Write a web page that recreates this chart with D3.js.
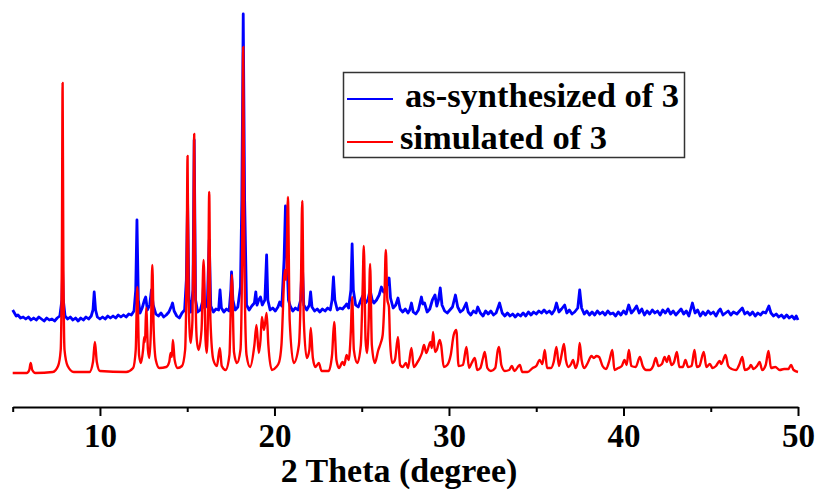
<!DOCTYPE html>
<html>
<head>
<meta charset="utf-8">
<script src="https://cdn.jsdelivr.net/npm/d3@7"></script>
<style>
  body { margin: 0; background: #fff; }
  #chart text { font-family: "Liberation Serif", "Times New Roman", serif; font-weight: bold; }
</style>
</head>
<body>
<div id="chart"></div>
<script>
// 2-theta (degree) vs intensity (a.u.)
var asSynthesized = [[5.0,97],[5.1,94],[5.2,91],[5.3,92],[5.45,89],[5.6,90],[5.75,88],[5.9,90],[6.05,87],[6.2,89],[6.35,87],[6.5,90],[6.65,88],[6.8,86],[6.95,89],[7.1,87],[7.25,88],[7.4,86],[7.55,89],[7.7,91],[7.82,107],[7.86,137],[7.9,107],[8.0,91],[8.15,88],[8.3,90],[8.45,87],[8.6,89],[8.75,86],[8.9,89],[9.05,87],[9.2,90],[9.35,88],[9.5,91],[9.6,97],[9.67,115],[9.75,97],[9.85,90],[10.0,88],[10.15,90],[10.3,88],[10.45,91],[10.6,89],[10.75,91],[10.9,89],[11.05,92],[11.2,90],[11.35,92],[11.5,90],[11.65,93],[11.8,92],[11.95,96],[12.05,117],[12.12,187],[12.2,107],[12.3,94],[12.42,99],[12.55,107],[12.62,110],[12.72,97],[12.85,102],[12.95,117],[13.05,102],[13.2,93],[13.35,91],[13.5,94],[13.65,90],[13.8,92],[13.95,95],[14.1,101],[14.16,104],[14.25,96],[14.4,91],[14.55,89],[14.7,94],[14.85,97],[14.95,127],[15.02,207],[15.1,107],[15.2,95],[15.33,117],[15.4,267],[15.48,107],[15.6,95],[15.75,97],[15.9,107],[15.94,127],[16.0,99],[16.15,102],[16.26,167],[16.35,101],[16.5,95],[16.65,98],[16.8,97],[16.88,117],[16.96,99],[17.1,95],[17.25,98],[17.4,96],[17.5,117],[17.54,135],[17.62,107],[17.75,97],[17.9,100],[18.05,120],[18.13,207],[18.21,393],[18.29,207],[18.4,102],[18.55,97],[18.7,101],[18.85,104],[18.93,115],[19.0,102],[19.1,107],[19.2,110],[19.3,102],[19.45,107],[19.55,152],[19.62,107],[19.75,97],[19.9,99],[20.05,96],[20.2,100],[20.3,105],[20.42,101],[20.55,147],[20.63,201],[20.7,157],[20.8,107],[20.9,101],[21.05,96],[21.2,99],[21.35,97],[21.5,107],[21.59,147],[21.68,102],[21.85,97],[22.0,102],[22.07,115],[22.15,100],[22.3,96],[22.45,98],[22.6,95],[22.75,98],[22.9,96],[23.05,99],[23.2,97],[23.3,107],[23.38,130],[23.46,107],[23.6,97],[23.75,99],[23.9,98],[24.05,101],[24.13,103],[24.25,99],[24.38,117],[24.45,163],[24.52,117],[24.65,102],[24.8,100],[24.95,107],[25.05,111],[25.12,112],[25.22,104],[25.35,107],[25.48,117],[25.6,107],[25.7,104],[25.85,107],[26.0,112],[26.13,120],[26.25,115],[26.38,119],[26.5,124],[26.57,129],[26.65,109],[26.8,99],[26.95,102],[27.08,109],[27.2,98],[27.35,95],[27.5,98],[27.65,94],[27.75,97],[27.85,104],[27.95,95],[28.1,93],[28.25,97],[28.42,110],[28.5,103],[28.6,104],[28.75,95],[28.9,98],[29.05,107],[29.2,112],[29.3,101],[29.4,107],[29.5,119],[29.6,102],[29.75,96],[29.9,94],[30.05,97],[30.2,100],[30.37,112],[30.5,100],[30.65,95],[30.8,97],[30.99,104],[31.1,95],[31.25,92],[31.4,96],[31.55,94],[31.65,100],[31.8,94],[31.95,91],[32.1,96],[32.25,93],[32.4,96],[32.55,92],[32.7,94],[32.9,104],[33.05,94],[33.2,91],[33.35,94],[33.5,91],[33.65,93],[33.8,90],[33.95,93],[34.1,91],[34.25,94],[34.4,91],[34.55,95],[34.7,92],[34.85,95],[35.0,93],[35.15,96],[35.3,94],[35.45,97],[35.6,94],[35.75,96],[35.9,93],[36.05,97],[36.16,104],[36.3,95],[36.45,98],[36.63,102],[36.75,94],[36.9,97],[37.05,93],[37.2,95],[37.38,99],[37.49,117],[37.6,99],[37.75,93],[37.9,96],[38.05,92],[38.2,95],[38.35,92],[38.5,96],[38.65,93],[38.8,95],[38.95,92],[39.1,96],[39.25,93],[39.4,94],[39.55,91],[39.7,95],[39.85,92],[40.0,96],[40.15,93],[40.3,102],[40.45,94],[40.6,97],[40.75,101],[40.9,94],[41.05,98],[41.2,92],[41.35,96],[41.5,93],[41.65,97],[41.8,94],[41.95,96],[42.1,92],[42.25,97],[42.4,94],[42.55,98],[42.7,93],[42.85,96],[43.0,92],[43.15,95],[43.3,98],[43.45,93],[43.6,96],[43.75,91],[43.95,104],[44.1,94],[44.25,97],[44.4,91],[44.55,95],[44.7,92],[44.85,96],[45.0,93],[45.15,95],[45.3,91],[45.45,96],[45.55,98],[45.7,92],[45.85,94],[46.0,96],[46.15,92],[46.3,95],[46.5,93],[46.65,96],[46.81,99],[46.95,93],[47.1,95],[47.25,92],[47.4,95],[47.55,91],[47.7,94],[47.85,92],[48.0,95],[48.15,94],[48.33,101],[48.45,94],[48.6,91],[48.75,93],[48.9,90],[49.05,92],[49.2,89],[49.35,92],[49.5,89],[49.65,91],[49.8,88],[49.9,91],[50.0,87]];

var simulated = [[5.0,34],[5.8,34],[5.95,37],[6.03,44],[6.12,37],[6.3,34],[7.3,35],[7.6,41],[7.75,57],[7.82,157],[7.86,324],[7.9,157],[7.97,57],[8.15,41],[8.5,35],[9.4,35],[9.6,45],[9.71,65],[9.82,45],[10.0,36],[11.5,35],[11.9,39],[12.05,57],[12.14,120],[12.24,52],[12.35,44],[12.47,57],[12.54,70],[12.58,65],[12.65,99],[12.75,57],[12.83,49],[12.92,77],[13.0,142],[13.08,77],[13.2,47],[13.4,39],[13.8,40],[13.97,45],[14.05,54],[14.12,50],[14.18,67],[14.28,47],[14.45,39],[14.7,41],[14.88,57],[14.97,147],[15.02,251],[15.08,107],[15.2,64],[15.3,87],[15.36,167],[15.4,273],[15.45,147],[15.55,67],[15.65,57],[15.82,77],[15.94,147],[16.05,67],[16.12,54],[16.2,107],[16.26,215],[16.33,87],[16.5,47],[16.7,41],[16.87,59],[16.98,41],[17.2,37],[17.42,52],[17.56,132],[17.68,55],[17.85,44],[18.05,57],[18.15,157],[18.21,360],[18.27,157],[18.4,52],[18.6,40],[18.85,62],[18.97,82],[19.1,54],[19.2,67],[19.28,90],[19.4,77],[19.55,94],[19.65,62],[19.85,37],[20.1,40],[20.27,45],[20.4,62],[20.6,137],[20.67,127],[20.77,210],[20.87,87],[21.1,44],[21.4,62],[21.52,127],[21.59,206],[21.68,87],[21.85,49],[22.0,57],[22.08,79],[22.2,49],[22.35,40],[22.54,44],[22.7,36],[23.1,36],[23.3,52],[23.42,85],[23.55,47],[23.7,39],[23.9,45],[24.0,42],[24.13,52],[24.25,47],[24.38,77],[24.45,110],[24.55,57],[24.75,44],[24.95,62],[25.05,117],[25.12,161],[25.22,67],[25.3,54],[25.4,87],[25.48,143],[25.58,62],[25.75,44],[25.95,57],[26.09,64],[26.2,72],[26.3,107],[26.38,157],[26.47,107],[26.56,100],[26.62,67],[26.75,44],[26.9,47],[27.08,70],[27.2,42],[27.35,40],[27.53,44],[27.65,39],[27.85,59],[27.98,40],[28.2,45],[28.33,49],[28.45,54],[28.57,62],[28.7,54],[28.94,65],[29.02,59],[29.09,75],[29.2,55],[29.3,57],[29.47,67],[29.55,62],[29.7,40],[29.9,42],[30.1,52],[30.27,72],[30.42,77],[30.55,41],[30.8,42],[31.0,60],[31.15,39],[31.3,44],[31.48,49],[31.62,37],[31.8,39],[31.95,49],[32.05,55],[32.2,39],[32.4,36],[32.65,39],[32.8,57],[32.87,60],[33.0,42],[33.2,36],[33.45,37],[33.6,41],[33.75,36],[34.06,42],[34.2,35],[34.5,35],[34.8,39],[35.0,41],[35.2,47],[35.35,43],[35.49,57],[35.62,39],[35.85,39],[36.0,45],[36.16,60],[36.3,41],[36.45,52],[36.59,63],[36.7,47],[36.85,40],[37.0,43],[37.11,47],[37.25,39],[37.4,47],[37.49,64],[37.6,47],[37.75,39],[37.95,44],[38.16,51],[38.3,49],[38.45,51],[38.6,50],[38.8,41],[39.0,38],[39.2,47],[39.36,57],[39.48,37],[39.7,39],[39.9,41],[40.06,47],[40.18,42],[40.31,57],[40.45,41],[40.7,40],[40.94,50],[41.1,41],[41.3,37],[41.5,37],[41.7,41],[41.85,49],[42.0,41],[42.2,43],[42.36,50],[42.48,45],[42.6,51],[42.75,42],[42.9,45],[43.06,55],[43.2,40],[43.4,40],[43.55,47],[43.7,40],[43.9,41],[44.07,57],[44.2,40],[44.35,41],[44.6,55],[44.75,40],[44.95,43],[45.1,39],[45.3,41],[45.51,46],[45.6,43],[45.85,52],[46.0,41],[46.2,38],[46.45,37],[46.65,43],[46.81,50],[46.95,37],[47.2,39],[47.3,42],[47.45,38],[47.65,41],[47.8,45],[47.95,37],[48.15,42],[48.31,56],[48.45,39],[48.7,40],[48.95,37],[49.2,38],[49.45,38],[49.6,42],[49.75,37],[50.0,35]];

var seriesNames = ['as-synthesized of 3', 'simulated of 3'];
var seriesColors = ['#0000ff', '#ff0000'];
var majorTicks = [10, 20, 30, 40, 50];
var minorTicks = [5, 15, 25, 35, 45];
var xTitle = '2 Theta (degree)';

var width = 820, height = 490;

var svg = d3.select('#chart').append('svg')
    .attr('width', width)
    .attr('height', height);

var x = d3.scaleLinear().domain([5, 50]).range([12.7, 798]);
var y = d3.scaleLinear().domain([0, 400]).range([407, 7]);

var line = d3.line()
    .x(d => x(d[0]))
    .y(d => y(d[1]));

svg.append('path')
    .datum(asSynthesized)
    .attr('fill', 'none')
    .attr('stroke', seriesColors[0])
    .attr('stroke-width', 2.8)
    .attr('stroke-linejoin', 'round')
    .attr('d', line);

svg.append('path')
    .datum(simulated)
    .attr('fill', 'none')
    .attr('stroke', seriesColors[1])
    .attr('stroke-width', 2.4)
    .attr('stroke-linejoin', 'round')
    .attr('d', line.curve(d3.curveMonotoneX));

// x axis, major ticks with labels then the short minor ones
var xAxis = svg.append('g')
    .attr('transform', `translate(0,${y(0)})`)
    .call(d3.axisBottom(x).tickValues(majorTicks).tickSize(9).tickSizeOuter(0).tickPadding(8));

svg.append('g')
    .attr('transform', `translate(0,${y(0)})`)
    .call(d3.axisBottom(x).tickValues(minorTicks).tickSize(5).tickSizeOuter(0).tickFormat(''))
    .select('.domain').remove();

svg.selectAll('.domain').attr('stroke', '#000').attr('stroke-width', 2);
svg.selectAll('.tick line').attr('stroke', '#000').attr('stroke-width', 2);

xAxis.selectAll('.tick text')
    .attr('fill', '#000')
    .style('font-size', '33px');

svg.append('text')
    .attr('x', 399)
    .attr('y', 482)
    .attr('text-anchor', 'middle')
    .style('font-size', '34px')
    .text(xTitle);

// legend
var legend = svg.append('g');

legend.append('rect')
    .attr('x', 343.5)
    .attr('y', 72.5)
    .attr('width', 341)
    .attr('height', 85)
    .attr('fill', '#fff')
    .attr('stroke', '#333')
    .attr('stroke-width', 1.5);

var legendRows = [{y: 99, tx: 405, ty: 107}, {y: 142, tx: 400, ty: 149}];

seriesNames.forEach(function(name, i) {
  legend.append('line')
      .attr('x1', 347)
      .attr('x2', 393)
      .attr('y1', legendRows[i].y)
      .attr('y2', legendRows[i].y)
      .attr('stroke', seriesColors[i])
      .attr('stroke-width', 2);
  legend.append('text')
      .attr('x', legendRows[i].tx)
      .attr('y', legendRows[i].ty)
      .style('font-size', '34.5px')
      .text(name);
});
</script>
</body>
</html>
